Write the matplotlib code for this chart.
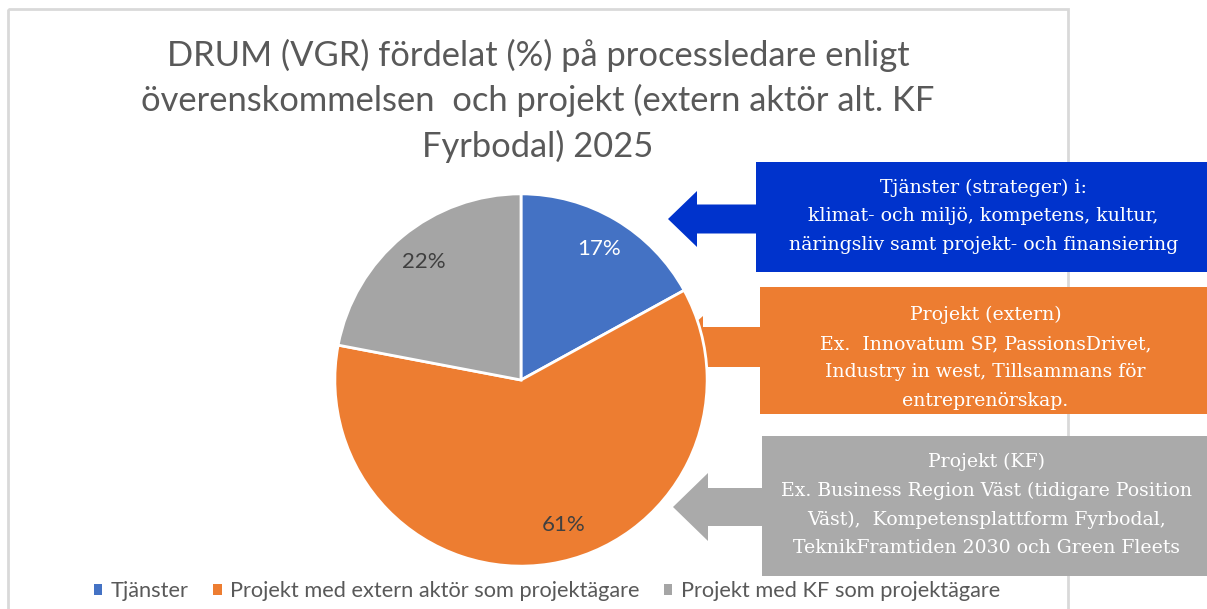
import matplotlib.pyplot as plt
from matplotlib.patches import Polygon, Rectangle, Patch

# pie data
categories = ["Tjänster", "Projekt med extern aktör som projektägare", "Projekt med KF som projektägare"]
shares = [17, 61, 22]
colors = ["#4472c4", "#ed7d31", "#a5a5a5"]
label_colors = ["white", "#404040", "#404040"]

title = ("DRUM (VGR) fördelat (%) på processledare enligt\n"
         "överenskommelsen  och projekt (extern aktör alt. KF\n"
         "Fyrbodal) 2025")

callout_texts = [
    "Tjänster (strateger) i:\nklimat- och miljö, kompetens, kultur,\nnäringsliv samt projekt- och finansiering",
    "Projekt (extern)\nEx.  Innovatum SP, PassionsDrivet,\nIndustry in west, Tillsammans för\nentreprenörskap.",
    "Projekt (KF)\nEx. Business Region Väst (tidigare Position\nVäst),  Kompetensplattform Fyrbodal,\nTeknikFramtiden 2030 och Green Fleets",
]
callout_colors = ["#0033cc", "#ed7d31", "#aaaaaa"]

W, H = 1207, 609
fig = plt.figure(figsize=(W / 100, H / 100), dpi=100)
plt.rcParams['font.family'] = ['Lato', 'DejaVu Sans']

# overlay in pixel coordinates, below the pie
bg = fig.add_axes([0, 0, 1, 1], zorder=0)
bg.set_xlim(0, W)
bg.set_ylim(H, 0)
bg.axis('off')

# chart border (bottom runs off the picture)
bg.add_patch(Rectangle((8, 9), 1060, 640, fill=False, edgecolor="#d9d9d9", lw=2))


def left_arrow(box_x, tip_x, yc, shaft_h, head_h, head_len):
    back = tip_x + head_len
    return [(box_x + 2, yc - shaft_h), (back, yc - shaft_h), (back, yc - head_h),
            (tip_x, yc), (back, yc + head_h), (back, yc + shaft_h), (box_x + 2, yc + shaft_h)]


# boxes: x0, y0, y1, text centre y ; arrows: tip_x, y centre, shaft half, head half, head length
boxes = [(756, 162, 272, 216), (760, 287, 414, 358), (762, 436, 576, 505)]
arrows = [(668, 219, 14.5, 28, 29), (668, 347, 20, 31, 35), (673, 507, 19, 34, 35)]

for (x0, y0, y1, ty), (tx, yc, sh, hh, hl), col, txt in zip(boxes, arrows, callout_colors, callout_texts):
    bg.add_patch(Polygon(left_arrow(x0, tx, yc, sh, hh, hl), closed=True, color=col, lw=0))
    bg.add_patch(Rectangle((x0, y0), W - x0, y1 - y0, color=col, lw=0, zorder=3))
    t = bg.text((x0 + W) / 2 + 2, ty, txt, ha='center', va='center', color='white',
                family='DejaVu Serif', fontsize=13.6, linespacing=1.75, zorder=4)
    t.set_clip_path(Rectangle((x0, y0), W - x0, y1 - y0, transform=bg.transData))

# pie
R, cx, cy = 188, 521, 380
pax = fig.add_axes([(cx - R) / W, (H - cy - R) / H, 2 * R / W, 2 * R / H], zorder=1)
wedges, _, autotexts = pax.pie(shares, colors=colors, startangle=90, counterclock=False,
                               autopct='%1.0f%%', pctdistance=0.82,
                               wedgeprops=dict(edgecolor='white', linewidth=2),
                               textprops=dict(fontsize=16))
for t, c in zip(autotexts, label_colors):
    t.set_color(c)
x, y = autotexts[1].get_position()
autotexts[1].set_position((x + 0.1, y + 0.03))
pax.set_xlim(-1.01, 1.01)
pax.set_ylim(-1.01, 1.01)
pax.set_aspect('equal')
pax.axis('off')

fig.text(538 / W, 1 - 39 / H, title, ha='center', va='top', fontsize=24.8,
         color='#595959', linespacing=1.45)

handles = [Patch(facecolor=c, edgecolor='none') for c in colors]
fig.legend(handles, categories, loc='center', bbox_to_anchor=(547 / W, 1 - 591 / H),
           ncol=3, frameon=False, fontsize=15.7, labelcolor='#595959',
           handlelength=0.4, handleheight=0.4, handletextpad=0.4, columnspacing=1.1)

fig.savefig('out.png', dpi=100)
